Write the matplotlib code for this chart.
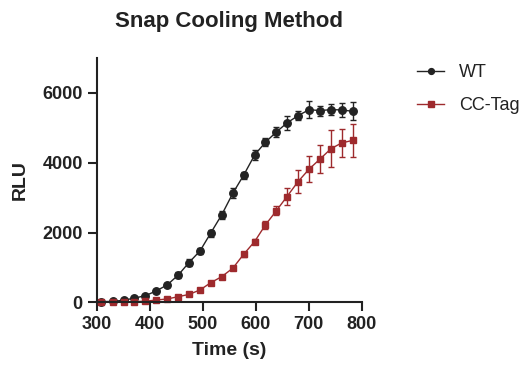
import matplotlib
matplotlib.use("Agg")
import matplotlib.pyplot as plt
from matplotlib.lines import Line2D

plt.rcParams['font.family'] = ['Liberation Sans', 'DejaVu Sans']

time_s = [309, 330, 351, 371, 392, 412, 433, 454, 474, 495, 515, 536,
          557, 577, 598, 618, 639, 659, 680, 701, 721, 742, 762, 783]
wt_mean = [20, 25, 60, 120, 190, 324, 497, 784, 1137, 1473, 1981, 2510,
           3129, 3635, 4220, 4582, 4880, 5139, 5349, 5521, 5492, 5521, 5512, 5473]
wt_err = [10, 10, 15, 20, 30, 40, 60, 90, 100, 80, 100, 110,
          134, 100, 134, 114, 134, 200, 134, 238, 143, 163, 190, 257]
cc_mean = [5, 8, 12, 20, 30, 65, 95, 162, 225, 354, 560, 736,
           980, 1370, 1741, 2210, 2625, 3030, 3460, 3820, 4100, 4400, 4565, 4640]
cc_err = [5, 5, 5, 10, 10, 15, 20, 25, 30, 35, 40, 45,
          50, 60, 80, 114, 124, 238, 333, 362, 400, 524, 410, 476]

labels = ["WT", "CC-Tag"]
wt_color = "#232323"
cc_color = "#9e2a2d"

fig = plt.figure(figsize=(5.28, 3.75), dpi=100)
ax = fig.add_axes([96.7/528, 1-302.3/375, 265/528, 244.3/375])

for mean, err, col, mk, ms in [(wt_mean, wt_err, wt_color, 'o', 5.4),
                               (cc_mean, cc_err, cc_color, 's', 4.8)]:
    cont = ax.errorbar(time_s, mean, yerr=err, color=col, marker=mk, markersize=ms,
                       linewidth=1.0, elinewidth=1.0, capsize=2.5, capthick=1.0)
    for artist in cont.lines[0:1] + tuple(cont.lines[1]) + tuple(cont.lines[2]):
        artist.set_clip_on(False)

ax.set_xlim(300, 800)
ax.set_ylim(0, 7000)
ax.set_xticks([300, 400, 500, 600, 700, 800])
ax.set_yticks([0, 2000, 4000, 6000])

for s in ['top', 'right']:
    ax.spines[s].set_visible(False)
for s in ['left', 'bottom']:
    ax.spines[s].set_linewidth(1.5)
    ax.spines[s].set_color('#222222')

ax.tick_params(axis='both', length=6.5, width=1.5, color='#222222', labelsize=13, pad=3.5)
for lab in ax.get_xticklabels() + ax.get_yticklabels():
    lab.set_fontweight('bold')
    lab.set_color('#222222')

ax.set_xlabel("Time (s)", fontsize=14, fontweight='bold', color='#222222', labelpad=6)
ax.set_ylabel("RLU", fontsize=14, fontweight='bold', color='#222222', labelpad=10)
ax.set_title("Snap Cooling Method", fontsize=16, fontweight='bold', color='#222222', pad=22)

handles = [Line2D([], [], color=wt_color, marker='o', markersize=4.2, linewidth=1.0),
           Line2D([], [], color=cc_color, marker='s', markersize=4.2, linewidth=1.0)]
leg = ax.legend(handles, labels, loc='upper left', bbox_to_anchor=(1.21, 0.975), frameon=False,
                fontsize=13, handlelength=1.5, handletextpad=0.8, labelspacing=0.9,
                borderpad=0, borderaxespad=0)
for t in leg.get_texts():
    t.set_color('#222222')

fig.savefig("out.png", dpi=100)
